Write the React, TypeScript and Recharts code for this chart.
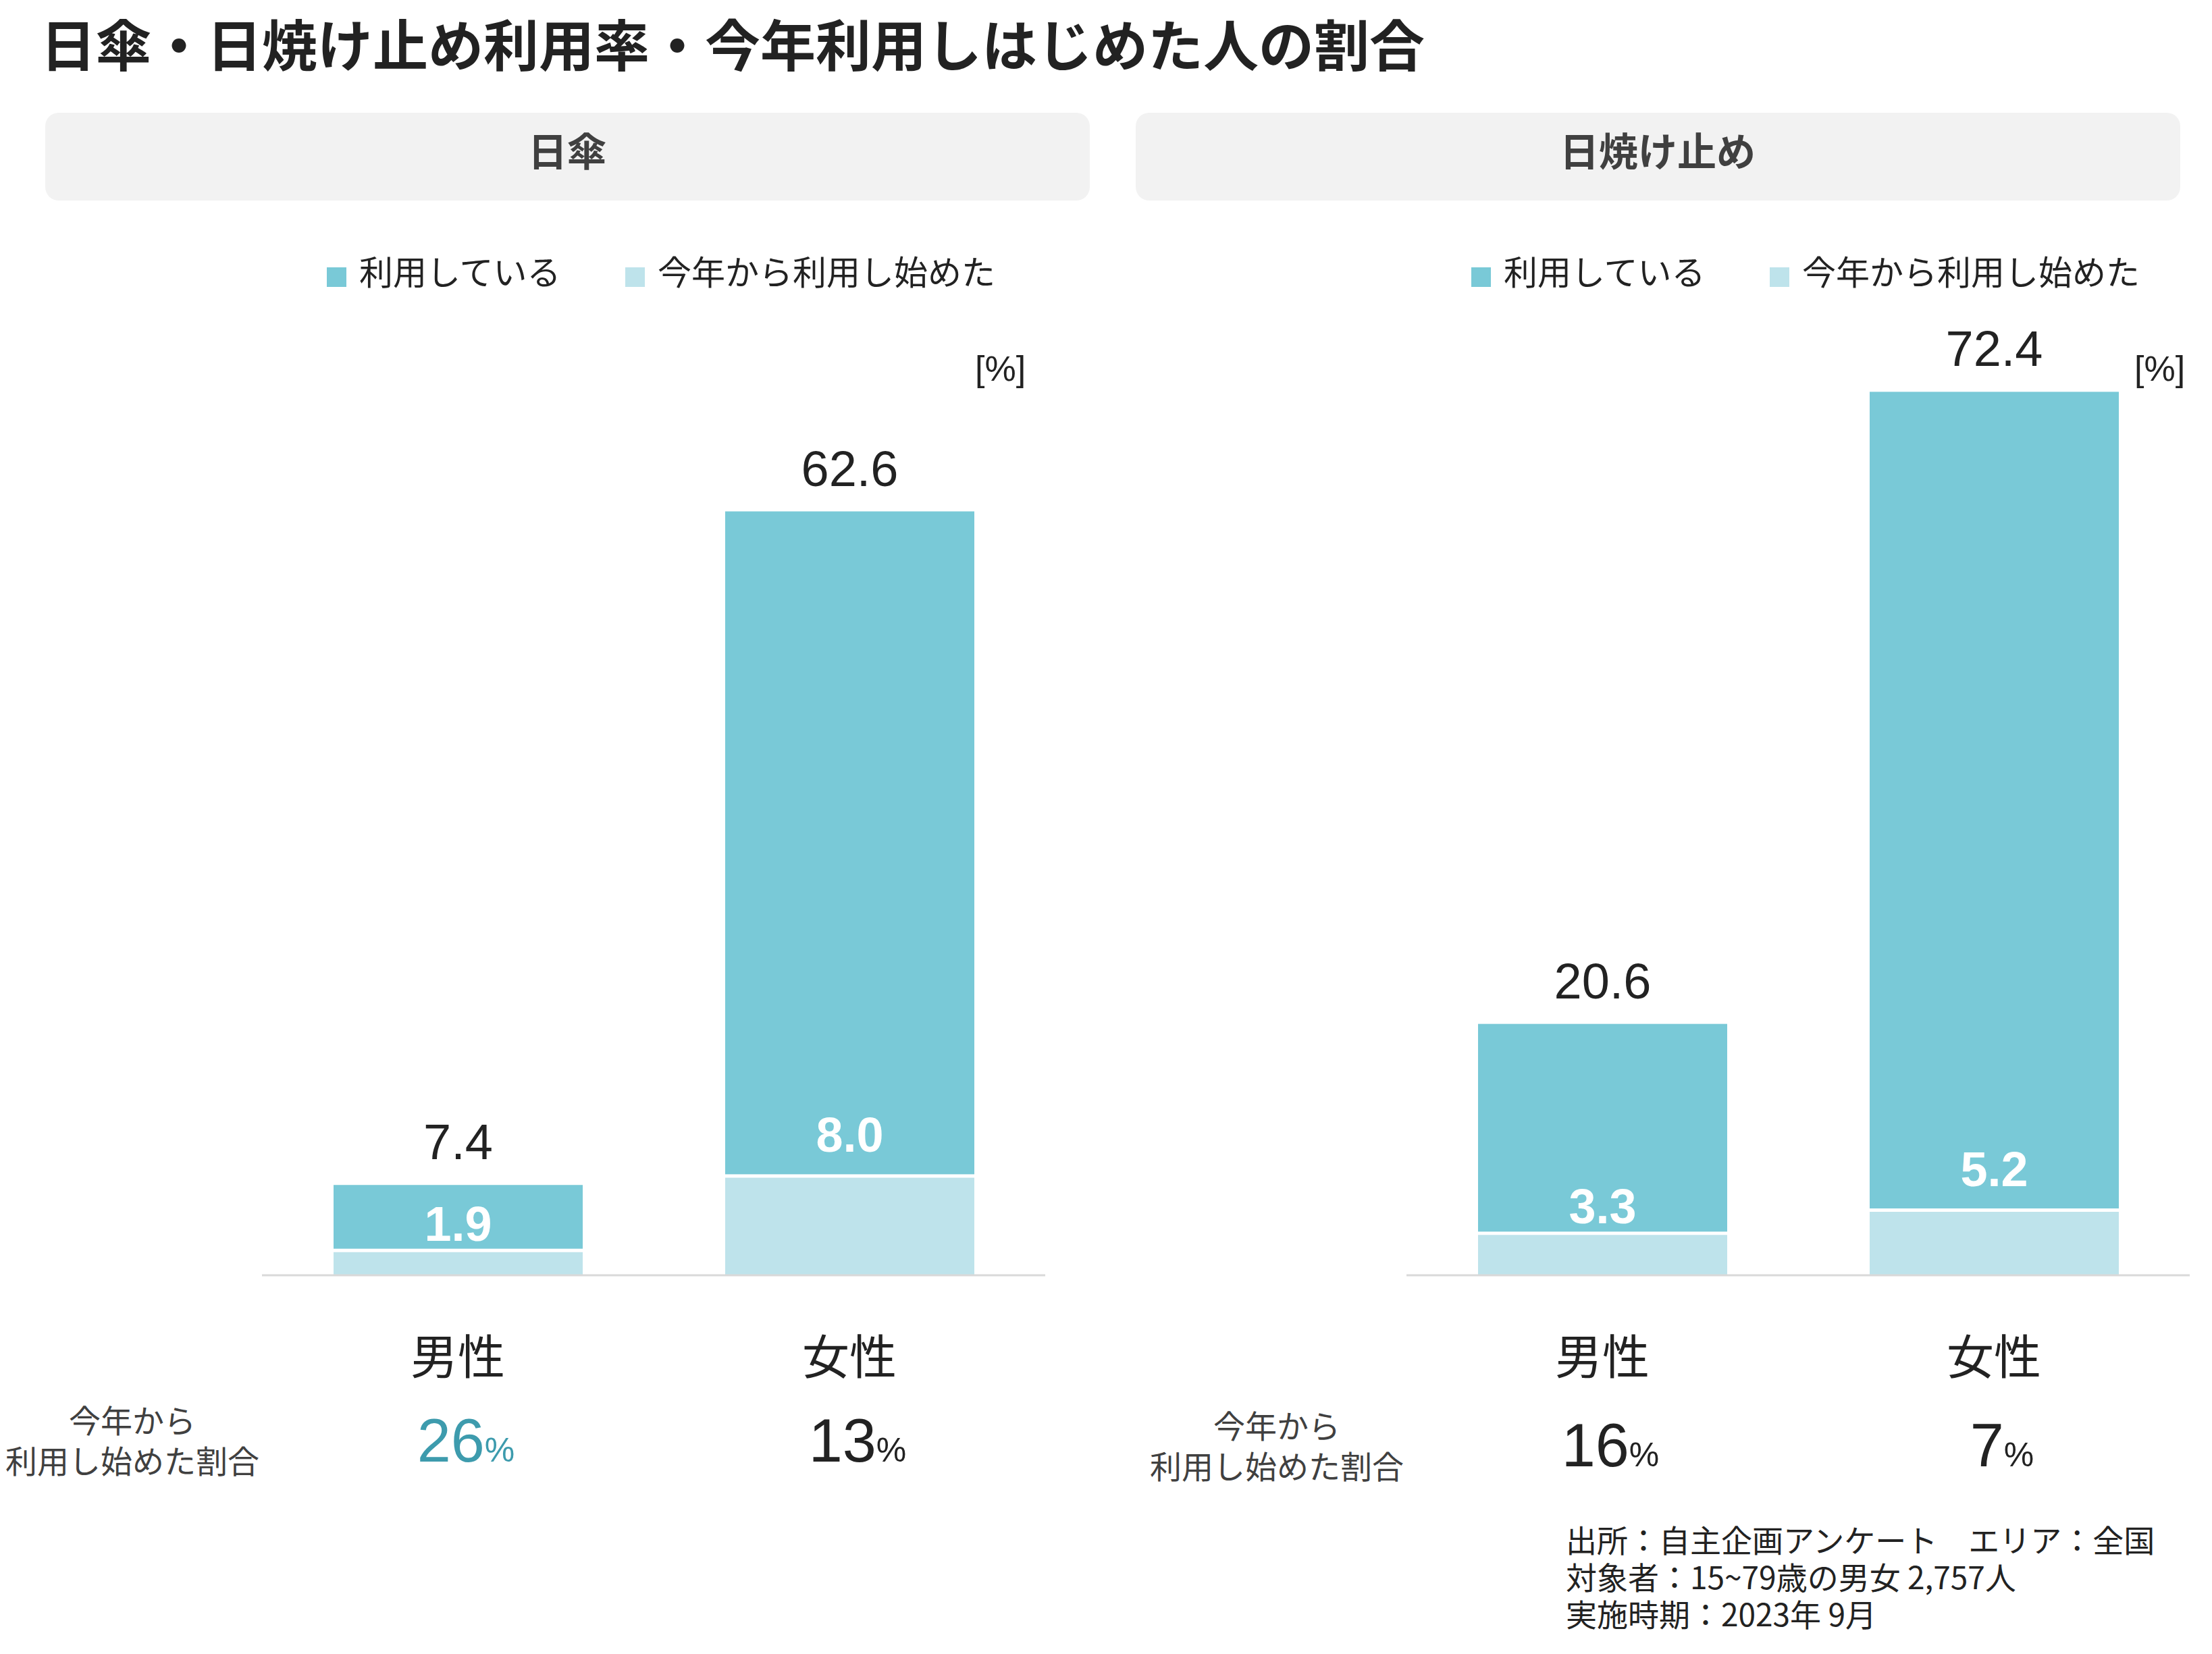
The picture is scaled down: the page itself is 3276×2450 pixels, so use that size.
import { BarChart, Bar, XAxis, YAxis, Legend, LabelList } from 'recharts';

const categories = ['男性', '女性'];
const seriesNames = ['利用している', '今年から利用し始めた'];

const parasolUsing = [7.4, 62.6];
const parasolStarted = [1.9, 8.0];
const parasolShare = [26, 13];

const sunscreenUsing = [20.6, 72.4];
const sunscreenStarted = [3.3, 5.2];
const sunscreenShare = [16, 7];

const title = '日傘・日焼け止め利用率・今年利用しはじめた人の割合';
const panelTitles = ['日傘', '日焼け止め'];
const rowLabel = ['今年から', '利用し始めた割合'];
const footerLines = [
  '出所：自主企画アンケート　エリア：全国',
  '対象者：15~79歳の男女 2,757人',
  '実施時期：2023年 9月',
];

const DARK = '#79C9D7';
const LIGHT = '#BEE3EB';
const ACCENT = '#3D9BAD';
const TEXT = '#222222';
const JP = '"Noto Sans CJK JP", "Noto Sans", sans-serif';
const NUM = '"Liberation Sans", Arial, sans-serif';

// how far the white value sits above the bottom of the dark segment, per category
const innerLift = [17, 38];

const buildRows = (using: number[], started: number[]) =>
  categories.map((name, i) => ({
    name,
    total: using[i],
    started: started[i],
    rest: +(using[i] - started[i]).toFixed(1),
  }));

// dark segment is drawn a little shorter so a white gap shows above the light one
const GapShape = (props: any) => {
  const { x, y, width, height, fill } = props;
  return <rect x={x} y={y} width={width} height={Math.max(0, height - 5)} fill={fill} />;
};

const TotalLabel = (props: any) => {
  const { x, y, width, value } = props;
  return (
    <text x={x + width / 2} y={y - 38} textAnchor="middle" fontFamily={NUM} fontSize={74} fill={TEXT}>
      {Number(value).toFixed(1)}
    </text>
  );
};

const InnerLabel = (props: any) => {
  const { x, y, width, height, value, index } = props;
  return (
    <text x={x + width / 2} y={y + height - innerLift[index ?? 0]} textAnchor="middle" fontFamily={NUM} fontWeight="bold" fontSize={72} fill="#fff">
      {Number(value).toFixed(1)}
    </text>
  );
};

const LegendBox = () => (
  <svg width={1100} height={120} style={{ display: 'block' }}>
    {seriesNames.map((name, i) => (
      <g key={name} transform={`translate(${i * 442},0)`}>
        <rect x={0} y={46} width={29} height={29} fill={i === 0 ? DARK : LIGHT} />
        <text x={48} y={50} dominantBaseline="central" fontFamily={JP} fontSize={50} fill={TEXT}>
          {name}
        </text>
      </g>
    ))}
  </svg>
);

function Panel({ using, started, share, left, highlight, rowDy }: {
  using: number[]; started: number[]; share: number[]; left: number; highlight: number; rowDy: number;
}) {
  const rows = buildRows(using, started);
  const renderTick = (p: any) => {
    const { x, y, payload, index } = p;
    return (
      <g>
        <text x={x} y={y + 116} textAnchor="middle" dominantBaseline="central" fontFamily={JP} fontSize={70} fill={TEXT}>
          {payload.value}
        </text>
        <text x={x + 12} y={y + 276 + rowDy} textAnchor="middle" fontFamily={NUM} fill={index === highlight ? ACCENT : TEXT}>
          <tspan fontSize={90}>{share[index]}</tspan>
          <tspan fontSize={50}>%</tspan>
        </text>
      </g>
    );
  };
  return (
    <div style={{ position: 'absolute', left, top: 0 }}>
      <BarChart width={1580} height={2450} data={rows} margin={{ top: 443, right: 32, bottom: 261, left: 388 }} barSize={369}>
        <YAxis hide domain={[0, 80]} />
        <XAxis
          dataKey="name"
          height={300}
          interval={0}
          axisLine={{ stroke: '#D9D9D9', strokeWidth: 3 }}
          tickLine={false}
          tickSize={0}
          tickMargin={0}
          tick={renderTick}
        />
        <Legend
          layout="horizontal"
          verticalAlign="middle"
          align="center"
          wrapperStyle={{ top: 350, left: 484, width: 1100, height: 120 }}
          content={() => <LegendBox />}
        />
        <Bar dataKey="started" stackId="a" fill={LIGHT} isAnimationActive={false} />
        <Bar dataKey="rest" stackId="a" fill={DARK} shape={GapShape} isAnimationActive={false}>
          <LabelList dataKey="total" content={TotalLabel} />
          <LabelList dataKey="started" content={InnerLabel} />
        </Bar>
      </BarChart>
    </div>
  );
}

export default function App() {
  const panelShift = 1695;
  return (
    <div style={{ position: 'absolute', left: 0, top: 0, width: 3276, height: 2450, background: '#fff', overflow: 'hidden' }}>
      <svg width={3276} height={2450} style={{ position: 'absolute', left: 0, top: 0 }}>
        <text x={60} y={62} dominantBaseline="central" fontFamily={JP} fontWeight="bold" fontSize={82} fill={TEXT}>
          {title}
        </text>
        {panelTitles.map((t, i) => {
          const bx = i === 0 ? 67 : 1682;
          return (
            <g key={t}>
              <rect x={bx} y={167} width={1547} height={130} rx={20} fill="#F2F2F2" />
              <text x={bx + 773} y={221} textAnchor="middle" dominantBaseline="central" fontFamily={JP} fontWeight="bold" fontSize={58} fill="#404040">
                {t}
              </text>
            </g>
          );
        })}
        <text x={1444} y={564} fontFamily={NUM} fontSize={52} fill={TEXT}>[%]</text>
        <text x={3161} y={564} fontFamily={NUM} fontSize={52} fill={TEXT}>[%]</text>
        {[0, 1].map((p) => (
          <g key={p}>
            {rowLabel.map((line, j) => (
              <text
                key={line}
                x={196 + p * panelShift}
                y={2101 + j * 60 + (p === 1 ? 8 : 0)}
                textAnchor="middle"
                dominantBaseline="central"
                fontFamily={JP}
                fontSize={47}
                fill="#404040"
              >
                {line}
              </text>
            ))}
          </g>
        ))}
        {footerLines.map((line, i) => (
          <text key={line} x={2319} y={2279 + i * 55} dominantBaseline="central" fontFamily={JP} fontSize={46} fill={TEXT}>
            {line}
          </text>
        ))}
      </svg>
      <Panel using={parasolUsing} started={parasolStarted} share={parasolShare} left={0} highlight={0} rowDy={0} />
      <Panel using={sunscreenUsing} started={sunscreenStarted} share={sunscreenShare} left={panelShift} highlight={-1} rowDy={7} />
    </div>
  );
}
